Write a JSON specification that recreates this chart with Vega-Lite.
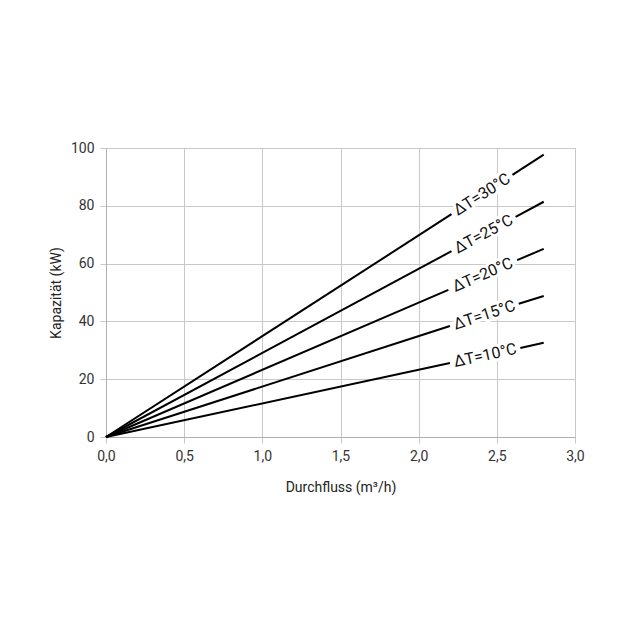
{
  "$schema": "https://vega.github.io/schema/vega-lite/v6.json",
  "width": 469,
  "height": 289,
  "autosize": {"type": "none"},
  "padding": {"left": 106, "top": 148, "right": 65, "bottom": 203},
  "background": "white",
  "datasets": {
    "lines": [
      {"dt": 30, "seg": "30a", "flow": 0, "kw": 0},
      {"dt": 30, "seg": "30a", "flow": 2.21, "kw": 77.1},
      {"dt": 30, "seg": "30b", "flow": 2.6, "kw": 90.7},
      {"dt": 30, "seg": "30b", "flow": 2.8, "kw": 97.7},
      {"dt": 25, "seg": "25a", "flow": 0, "kw": 0},
      {"dt": 25, "seg": "25a", "flow": 2.21, "kw": 64.3},
      {"dt": 25, "seg": "25b", "flow": 2.62, "kw": 76.2},
      {"dt": 25, "seg": "25b", "flow": 2.8, "kw": 81.4},
      {"dt": 20, "seg": "20a", "flow": 0, "kw": 0},
      {"dt": 20, "seg": "20a", "flow": 2.19, "kw": 50.9},
      {"dt": 20, "seg": "20b", "flow": 2.63, "kw": 61.2},
      {"dt": 20, "seg": "20b", "flow": 2.8, "kw": 65.1},
      {"dt": 15, "seg": "15a", "flow": 0, "kw": 0},
      {"dt": 15, "seg": "15a", "flow": 2.2, "kw": 38.4},
      {"dt": 15, "seg": "15b", "flow": 2.64, "kw": 46.1},
      {"dt": 15, "seg": "15b", "flow": 2.8, "kw": 48.8},
      {"dt": 10, "seg": "10a", "flow": 0, "kw": 0},
      {"dt": 10, "seg": "10a", "flow": 2.2, "kw": 25.6},
      {"dt": 10, "seg": "10b", "flow": 2.65, "kw": 30.8},
      {"dt": 10, "seg": "10b", "flow": 2.8, "kw": 32.6}
    ],
    "labels": [
      {"dt": 30, "label": "ΔT=30°C", "flow": 2.405, "kw": 83.9},
      {"dt": 25, "label": "ΔT=25°C", "flow": 2.415, "kw": 70.2},
      {"dt": 20, "label": "ΔT=20°C", "flow": 2.41, "kw": 56.1},
      {"dt": 15, "label": "ΔT=15°C", "flow": 2.42, "kw": 42.2},
      {"dt": 10, "label": "ΔT=10°C", "flow": 2.425, "kw": 28.2}
    ]
  },
  "config": {
    "view": {"stroke": "#c8c8c8"},
    "font": "Roboto",
    "axis": {
      "gridColor": "#c8c8c8",
      "gridOpacity": 1,
      "domainColor": "#b0b0b0",
      "tickColor": "#c8c8c8",
      "tickSize": 6,
      "labelFont": "Roboto",
      "labelFontSize": 14,
      "labelColor": "#333333",
      "labelFlush": false,
      "titleFont": "Roboto",
      "titleFontSize": 14,
      "titleFontWeight": "normal",
      "titleColor": "#222222"
    }
  },
  "layer": [
    {
      "data": {"name": "lines"},
      "mark": {"type": "line", "color": "#000000", "strokeWidth": 2},
      "encoding": {
        "x": {
          "field": "flow", "type": "quantitative",
          "scale": {"domain": [0, 3], "nice": false},
          "axis": {
            "values": [0, 0.5, 1, 1.5, 2, 2.5, 3],
            "labelExpr": "replace(format(datum.value, '.1f'), '.', ',')",
            "title": "Durchfluss (m³/h)",
            "labelPadding": 6,
            "titlePadding": 17
          }
        },
        "y": {
          "field": "kw", "type": "quantitative",
          "scale": {"domain": [0, 100], "nice": false},
          "axis": {
            "values": [0, 20, 40, 60, 80, 100],
            "title": "Kapazität (kW)",
            "labelPadding": 6,
            "titlePadding": 7
          }
        },
        "detail": {"field": "seg", "type": "nominal"}
      }
    },
    {
      "data": {"name": "labels"},
      "transform": [{"filter": "datum.dt == 30"}],
      "layer": [
        {"mark": {"type": "text", "angle": 327.2, "fontSize": 16, "font": "Roboto", "color": "white", "stroke": "white", "strokeWidth": 6, "baseline": "middle", "align": "center"}},
        {"mark": {"type": "text", "angle": 327.2, "fontSize": 16, "font": "Roboto", "color": "#111111", "baseline": "middle", "align": "center"}}
      ],
      "encoding": {
        "x": {"field": "flow", "type": "quantitative"},
        "y": {"field": "kw", "type": "quantitative"},
        "text": {"field": "label"}
      }
    },
    {
      "data": {"name": "labels"},
      "transform": [{"filter": "datum.dt == 25"}],
      "layer": [
        {"mark": {"type": "text", "angle": 331.7, "fontSize": 16, "font": "Roboto", "color": "white", "stroke": "white", "strokeWidth": 6, "baseline": "middle", "align": "center"}},
        {"mark": {"type": "text", "angle": 331.7, "fontSize": 16, "font": "Roboto", "color": "#111111", "baseline": "middle", "align": "center"}}
      ],
      "encoding": {
        "x": {"field": "flow", "type": "quantitative"},
        "y": {"field": "kw", "type": "quantitative"},
        "text": {"field": "label"}
      }
    },
    {
      "data": {"name": "labels"},
      "transform": [{"filter": "datum.dt == 20"}],
      "layer": [
        {"mark": {"type": "text", "angle": 336.7, "fontSize": 16, "font": "Roboto", "color": "white", "stroke": "white", "strokeWidth": 6, "baseline": "middle", "align": "center"}},
        {"mark": {"type": "text", "angle": 336.7, "fontSize": 16, "font": "Roboto", "color": "#111111", "baseline": "middle", "align": "center"}}
      ],
      "encoding": {
        "x": {"field": "flow", "type": "quantitative"},
        "y": {"field": "kw", "type": "quantitative"},
        "text": {"field": "label"}
      }
    },
    {
      "data": {"name": "labels"},
      "transform": [{"filter": "datum.dt == 15"}],
      "layer": [
        {"mark": {"type": "text", "angle": 342.1, "fontSize": 16, "font": "Roboto", "color": "white", "stroke": "white", "strokeWidth": 6, "baseline": "middle", "align": "center"}},
        {"mark": {"type": "text", "angle": 342.1, "fontSize": 16, "font": "Roboto", "color": "#111111", "baseline": "middle", "align": "center"}}
      ],
      "encoding": {
        "x": {"field": "flow", "type": "quantitative"},
        "y": {"field": "kw", "type": "quantitative"},
        "text": {"field": "label"}
      }
    },
    {
      "data": {"name": "labels"},
      "transform": [{"filter": "datum.dt == 10"}],
      "layer": [
        {"mark": {"type": "text", "angle": 347.9, "fontSize": 16, "font": "Roboto", "color": "white", "stroke": "white", "strokeWidth": 6, "baseline": "middle", "align": "center"}},
        {"mark": {"type": "text", "angle": 347.9, "fontSize": 16, "font": "Roboto", "color": "#111111", "baseline": "middle", "align": "center"}}
      ],
      "encoding": {
        "x": {"field": "flow", "type": "quantitative"},
        "y": {"field": "kw", "type": "quantitative"},
        "text": {"field": "label"}
      }
    }
  ]
}
